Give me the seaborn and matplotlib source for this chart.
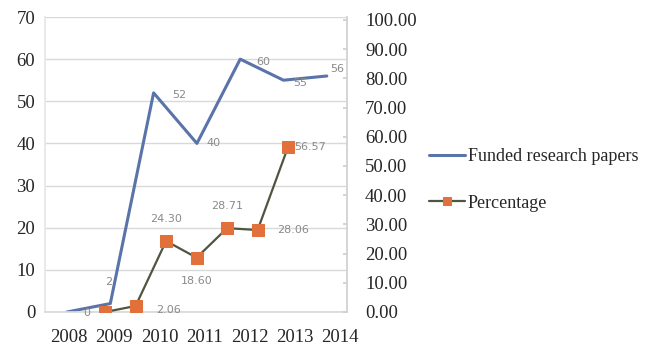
import matplotlib
matplotlib.use("Agg")
import matplotlib.pyplot as plt
import seaborn as sns
import numpy as np
import pandas as pd

# Data
years = ["2008", "2009", "2010", "2011", "2012", "2013", "2014"]
funded_papers = [0, 2, 52, 40, 60, 55, 56]
percentage = [0.00, 2.06, 24.30, 18.60, 28.71, 28.06, 56.57]
funded_labels = ["0", "2", "52", "40", "60", "55", "56"]
percentage_labels = ["", "2.06", "24.30", "18.60", "28.71", "28.06", "56.57"]
left_ticks = [0, 10, 20, 30, 40, 50, 60, 70]
right_ticks = [0, 10, 20, 30, 40, 50, 60, 70, 80, 90, 100]

sns.set_theme(style="white")
plt.rcParams["font.family"] = ["Liberation Serif", "DejaVu Serif"]

BLUE = "#5a73a8"
ORANGE = "#e2703a"
DARK = "#4e5640"
GRID = "#d9d9d9"
LABEL = "#8a8a8a"

W, H = 650, 348
fig = plt.figure(figsize=(W / 100, H / 100), dpi=100)
rect = [45 / W, 36 / H, 302 / W, 295 / H]

ax = fig.add_axes(rect)
ax_r = fig.add_axes(rect)
ax_r.patch.set_visible(False)

df_a = pd.DataFrame({"pos": np.arange(len(years)), "papers": funded_papers})
df_b = pd.DataFrame({"pos": np.arange(len(years)), "pct": percentage})

sns.lineplot(data=df_a, x="pos", y="papers", ax=ax, color=BLUE, linewidth=2.2,
             label="Funded research papers", legend=False)
sns.lineplot(data=df_b, x="pos", y="pct", ax=ax_r, color=DARK, linewidth=1.6,
             marker="s", markersize=8, markerfacecolor=ORANGE, markeredgecolor=ORANGE,
             label="Percentage", legend=False)

# Left axis (papers)
ax.set_xlim(-0.508, 6.466)
ax.set_ylim(0, 70)
ax.set_yticks(left_ticks)
ax.set_yticklabels([str(t) for t in left_ticks], fontsize=13.5)
ax.set_xticks(0.046 + 1.044 * np.arange(len(years)))
ax.set_xticklabels(years, fontsize=13.5)
ax.tick_params(axis="x", length=0, pad=12)
ax.tick_params(axis="y", length=0, pad=7)
ax.set_xlabel("")
ax.set_ylabel("")
ax.grid(axis="y", color=GRID, linewidth=1.0)
ax.set_axisbelow(True)
for s in ["top", "right"]:
    ax.spines[s].set_visible(False)
ax.spines["left"].set_color("#e6e6e6")
ax.spines["bottom"].set_color(GRID)

# Right axis (percentage), own horizontal scale
ax_r.set_xlim(-1.97, 7.93)
ax_r.set_ylim(0, 101)
ax_r.yaxis.tick_right()
ax_r.set_yticks(right_ticks)
ax_r.set_yticklabels([f"{t:.2f}" for t in right_ticks], fontsize=13.5)
ax_r.set_xticks([])
ax_r.set_xlabel("")
ax_r.set_ylabel("")
ax_r.tick_params(axis="y", direction="in", length=3, color="#cfcfcf", pad=13)
for s in ["top", "left", "bottom"]:
    ax_r.spines[s].set_visible(False)
ax_r.spines["right"].set_color("#d0d0d0")

# Value labels (offsets in pixels)
px = 72 / 100
funded_off = [(20, -1), (-2, 22), (26, -2), (17, 0), (23, -3), (17, -3), (10, 7)]
for i, (v, t) in enumerate(zip(funded_papers, funded_labels)):
    dx, dy = funded_off[i]
    ax.annotate(t, (i, v), xytext=(dx * px, dy * px), textcoords="offset points",
                ha="center", va="center", fontsize=8, color=LABEL, family="DejaVu Sans")

pct_off = [(0, 0), (33, -4), (0, 22), (0, -23), (0, 22), (35, 0), (22, 0)]
for i, (v, t) in enumerate(zip(percentage, percentage_labels)):
    if not t:
        continue
    dx, dy = pct_off[i]
    ax_r.annotate(t, (i, v), xytext=(dx * px, dy * px), textcoords="offset points",
                  ha="center", va="center", fontsize=8, color=LABEL, family="DejaVu Sans")

# Legend
handles = ax.get_lines()[:1] + ax_r.get_lines()[:1]
fig.legend(handles, ["Funded research papers", "Percentage"],
           loc="upper left", bbox_to_anchor=(429 / W, 1 - 148 / H),
           bbox_transform=fig.transFigure, frameon=False, fontsize=13,
           handlelength=2.0, handletextpad=0.15, labelspacing=1.65, borderpad=0,
           borderaxespad=0, markerscale=0.8)

fig.savefig("out.png", dpi=100)
